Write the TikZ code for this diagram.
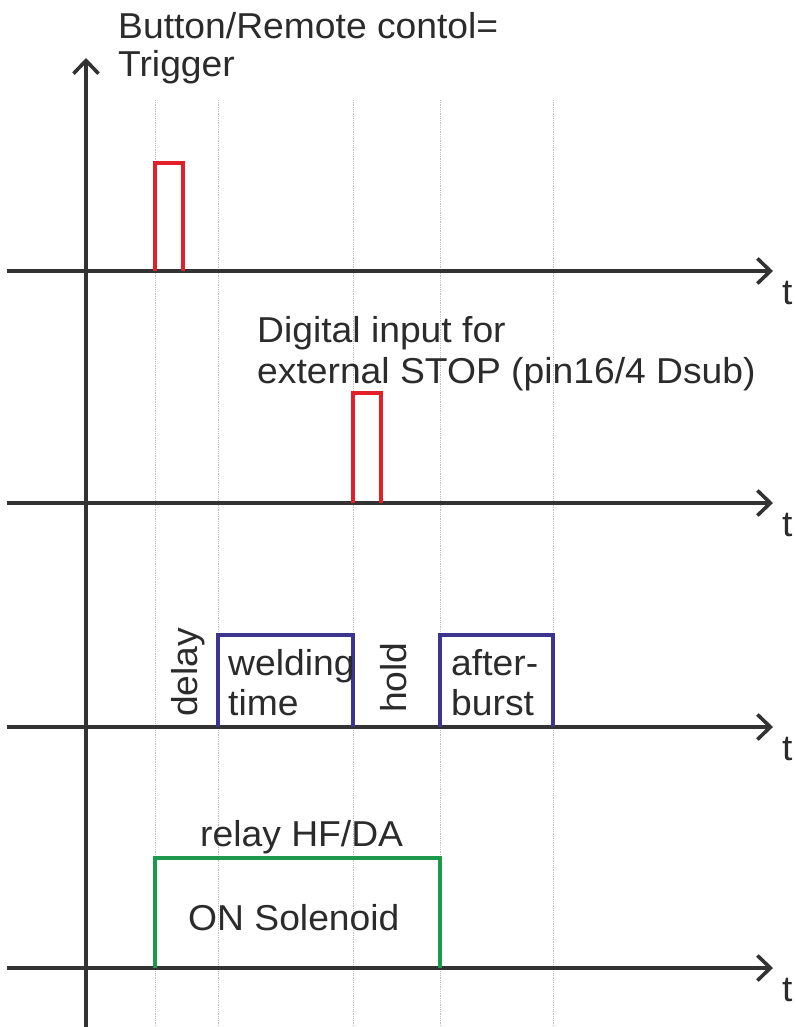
\documentclass[tikz,border=0pt]{standalone}
\usepackage{fontspec}
\setmainfont{Liberation Sans}[FakeStretch=1.035]
\usetikzlibrary{arrows.meta}
\definecolor{axisgray}{HTML}{333333}
\definecolor{textgray}{HTML}{2B2B2B}
\definecolor{pulsered}{HTML}{E3202A}
\definecolor{phaseblue}{HTML}{3B3590}
\definecolor{relaygreen}{HTML}{1A9A4A}

\begin{document}
\begin{tikzpicture}[x=1pt, y=-1pt, >={Straight Barb[length=13pt, width=25pt]},
  axis/.style={line width=3.6pt, color=axisgray, line cap=butt},
  grid/.style={gray!50, densely dotted, line width=0.8pt},
  lbl/.style={inner sep=0pt, anchor=base west, text=textgray, font=\fontsize{36}{40}\selectfont},
  sig/.style={line width=3.2pt, line join=miter}]
  % Timing diagram of the welding cycle
  \useasboundingbox (0,0) rectangle (795,1027);

  % Time marks
  \foreach \tx in {155, 218, 353, 440, 553}
    \draw[grid] (\tx,100) -- (\tx,1027);

  % Axes
  \coordinate (Vbot) at (86,1027);
  \coordinate (Vtop) at (86,58);
  \draw[axis, ->] (Vbot) -- (Vtop);
  \foreach \ty/\name in {271/A, 503/B, 727/C, 968/D} {
    \coordinate (\name0) at (7,\ty);
    \coordinate (\name1) at (773,\ty);
    \draw[axis, ->] (\name0) -- (\name1);
    \node[lbl] (t\name) at (782,\ty+33) {t};
  }

  % Trigger pulse
  \draw[sig, pulsered] (155,271) -- (155,163) -- (183,163) -- (183,271);
  \node[lbl] (trig1) at (118,39) {Button/Remote contol=};
  \node[lbl] (trig2) at (118,77) {Trigger};

  % External stop pulse
  \draw[sig, pulsered] (353,503) -- (353,393) -- (381,393) -- (381,503);
  \node[lbl] (stop1) at (257,342) {Digital input for};
  \node[lbl] (stop2) at (257,383) {external STOP (pin16/4 Dsub)};

  % Welding phases
  \draw[sig, phaseblue] (218,727) -- (218,635) -- (353,635) -- (353,727);
  \draw[sig, phaseblue] (440,727) -- (440,635) -- (553,635) -- (553,727);
  \node[lbl, rotate=90] (delay) at (197,717) {delay};
  \node[lbl] (weld1) at (228,675) {welding};
  \node[lbl] (weld2) at (228,715) {time};
  \node[lbl, rotate=90] (hold) at (406,713) {hold};
  \node[lbl] (after1) at (451,675) {after-};
  \node[lbl] (after2) at (451,715) {burst};

  % Relay
  \draw[sig, relaygreen] (155,968) -- (155,858) -- (440,858) -- (440,968);
  \node[lbl] (relay) at (200,846) {relay HF/DA};
  \node[lbl] (sol) at (188,930) {ON Solenoid};
\end{tikzpicture}
\end{document}
